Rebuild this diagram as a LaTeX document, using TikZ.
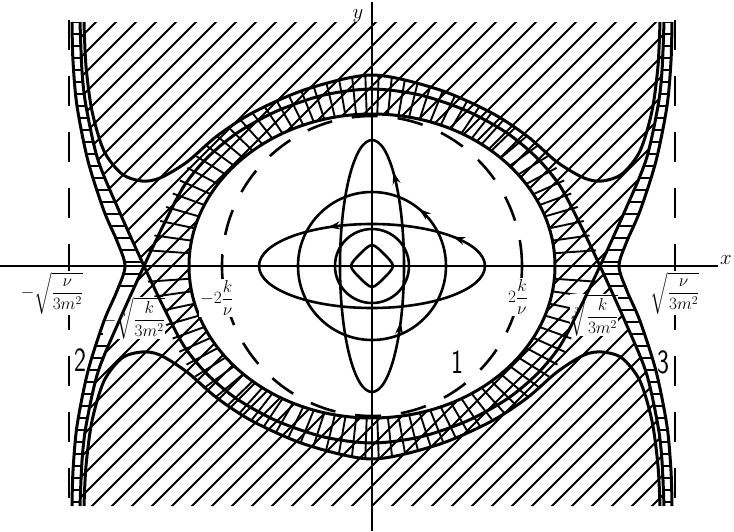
\documentclass[tikz,border=0pt]{standalone}
\usepackage{amsmath}
\usetikzlibrary{arrows.meta,decorations.markings}

\begin{document}
\begin{tikzpicture}[x=1pt, y=1pt,
    sep/.style={line width=3pt, line join=round},
    orbit/.style={line width=2.6pt},
    hatchline/.style={line width=2.1pt},
    rung/.style={line width=1.9pt},
    axisline/.style={line width=2.2pt},
    guide/.style={line width=2.6pt, dash pattern=on 30pt off 26pt},
    ringdash/.style={line width=2.6pt, dash pattern=on 26pt off 20pt},
    flowarrow/.style={postaction={decorate, decoration={markings,
      mark=at position #1 with {\arrow{Stealth[length=12pt, width=8pt]}}}}},
    lab/.style={font=\fontsize{18}{21}\selectfont, inner sep=1pt},
    num/.style={font=\fontsize{34}{34}\selectfont\sffamily, xscale=0.75, inner sep=0pt}
  ]
  \useasboundingbox (-372,-265) rectangle (362,266);

  % Diagonal hatching between the separatrix arms
  \begin{scope}
    \clip plot[smooth] coordinates {(-292,244) (-290,195) (-286,160) (-274,106) (-252,53) (-228,0)}
      -- plot[smooth] coordinates {(-228,0) (-252,-53) (-274,-106) (-286,-160) (-290,-195) (-292,-240)}
      -- plot[smooth] coordinates {(292,-240) (290,-195) (286,-160) (274,-106) (252,-53) (228,0)}
      -- plot[smooth] coordinates {(228,0) (252,53) (274,106) (286,160) (290,195) (292,244)} -- cycle;
    \foreach \c in {-560,-540,...,560}
      \draw[hatchline] (\c-300,-300) -- (\c+300,300);
  \end{scope}

  % Cross rungs in the ring
  \begin{scope}
    \clip plot[smooth cycle] coordinates {(0,191) (-65,177) (-118,154) (-155,130) (-182,102) (-203,65)
      (-217,32) (-228,0) (-217,-32) (-203,-65) (-182,-104) (-155,-132) (-118,-156) (-65,-179) (0,-193)
      (65,-179) (118,-156) (155,-132) (182,-104) (203,-65) (217,-32) (228,0) (217,32) (203,65)
      (182,102) (155,130) (118,154) (65,177)};
    \foreach \a in {0,4,...,356}
      \draw[rung] (0,0) -- (\a:330pt);
  \end{scope}

  % Cross rungs in the side bands
  \begin{scope}
    \clip plot[smooth] coordinates {(-300,244) (-299,205) (-295,160) (-284,105) (-268,55) (-255,25) (-247,0)
        (-255,-25) (-268,-55) (-284,-105) (-295,-160) (-299,-205) (-300,-240)}
      -- plot[smooth] coordinates {(-292,-240) (-290,-195) (-286,-160) (-274,-106) (-252,-53) (-228,0)}
      -- plot[smooth] coordinates {(-228,0) (-252,53) (-274,106) (-286,160) (-290,195) (-292,244)} -- cycle;
    \foreach \y in {-236,-224,...,244}
      \draw[rung] (-320,\y) -- (-210,\y);
  \end{scope}
  \begin{scope}
    \clip plot[smooth] coordinates {(300,244) (299,205) (295,160) (284,105) (268,55) (255,25) (247,0)
        (255,-25) (268,-55) (284,-105) (295,-160) (299,-205) (300,-240)}
      -- plot[smooth] coordinates {(292,-240) (290,-195) (286,-160) (274,-106) (252,-53) (228,0)}
      -- plot[smooth] coordinates {(228,0) (252,53) (274,106) (286,160) (290,195) (292,244)} -- cycle;
    \foreach \y in {-236,-224,...,244}
      \draw[rung] (210,\y) -- (320,\y);
  \end{scope}

  % Allowed region inside the ring
  \fill[white] (0,0) ellipse[x radius=183pt, y radius=152pt];

  % Labels sitting in the hatching
  \node[lab, fill=white, inner sep=0pt] (lcub) at (-238,-52) {$-\sqrt[3]{\dfrac{k}{3m^2}}$};
  \node[lab, fill=white, inner sep=0pt] (rcub) at (222,-49) {$\sqrt[3]{\dfrac{k}{3m^2}}$};

  % Level curves
  \draw[sep] plot[smooth] coordinates {(-300,244) (-299,205) (-295,160) (-284,105) (-268,55) (-255,25) (-247,0)
    (-255,-25) (-268,-55) (-284,-105) (-295,-160) (-299,-205) (-300,-240)};
  \draw[sep] plot[smooth] coordinates {(300,244) (299,205) (295,160) (284,105) (268,55) (255,25) (247,0)
    (255,-25) (268,-55) (284,-105) (295,-160) (299,-205) (300,-240)};
  \draw[sep] plot[smooth] coordinates {(-292,244) (-290,195) (-286,160) (-274,106) (-252,53) (-228,0)
    (-208,-42) (-188,-80) (-165,-108) (-135,-133) (-95,-155) (-48,-171) (0,-177) (48,-171) (95,-155)
    (135,-133) (165,-108) (188,-80) (208,-42) (228,0) (252,53) (274,106) (286,160) (290,195) (292,244)};
  \draw[sep] plot[smooth] coordinates {(-292,-240) (-290,-195) (-286,-160) (-274,-106) (-252,-53) (-228,0)
    (-208,42) (-188,80) (-165,108) (-135,133) (-95,155) (-48,171) (0,177) (48,171) (95,155)
    (135,133) (165,108) (188,80) (208,42) (228,0) (252,-53) (274,-106) (286,-160) (290,-195) (292,-240)};
  \draw[sep] plot[smooth] coordinates {(-288,244) (-286,200) (-280,155) (-268,115) (-250,92) (-230,85)
    (-212,88) (-185,104) (-155,130) (-118,154) (-65,177) (0,191) (65,177) (118,154) (155,130)
    (185,104) (212,88) (230,85) (250,92) (268,115) (280,155) (286,200) (288,244)};
  \draw[sep] plot[smooth] coordinates {(-288,-240) (-286,-200) (-280,-155) (-268,-115) (-250,-92) (-230,-86)
    (-212,-89) (-185,-106) (-155,-132) (-118,-156) (-65,-179) (0,-193) (65,-179) (118,-156) (155,-132)
    (185,-106) (212,-89) (230,-86) (250,-92) (268,-115) (280,-155) (286,-200) (288,-240)};
  \draw[sep] (0,0) ellipse[x radius=183pt, y radius=152pt];
  \draw[ringdash] (0,0) circle[radius=150pt];

  % Orbits round the centre
  \draw[orbit, flowarrow=0.175, flowarrow=0.896] (0,0) ellipse[x radius=32pt, y radius=126pt];
  \draw[orbit, flowarrow=0.089, flowarrow=0.336] (0,0) ellipse[x radius=113pt, y radius=42pt];
  \draw[orbit, flowarrow=0.14] (0,0) circle[radius=74pt];
  \draw[orbit] (0,0) circle[radius=37pt];
  \draw[orbit] plot[smooth cycle] coordinates {(0,21) (12,12) (21,0) (12,-12) (0,-21) (-12,-12) (-21,0) (-12,12)};

  % Axes
  \coordinate (xa) at (-372,0);
  \coordinate (xb) at (346,0);
  \coordinate (ya) at (0,-265);
  \coordinate (yb) at (0,264);
  \draw[axisline] (xa) -- (xb);
  \draw[axisline] (ya) -- (yb);
  \foreach \t in {-303,-150,150,303}
    \draw[axisline] (\t,0) -- (\t,12);
  \coordinate (gla) at (-303,246);
  \coordinate (glb) at (-303,-240);
  \coordinate (gra) at (303,246);
  \coordinate (grb) at (303,-240);
  \draw[guide] (gla) -- (glb);
  \draw[guide] (gra) -- (grb);

  % Axis labels and marks
  \node[font=\fontsize{22}{22}\selectfont] (xlab) at (354,6) {$x$};
  \node[font=\fontsize{22}{22}\selectfont] (ylab) at (-14,250) {$y$};
  \node[lab, fill=white] (lsq) at (-320,-27) {$-\sqrt{\dfrac{\nu}{3m^2}}$};
  \node[lab, fill=white] (rsq) at (303,-27) {$\sqrt{\dfrac{\nu}{3m^2}}$};
  \node[lab, fill=white] (lk) at (-155,-32) {$-2\dfrac{k}{\nu}$};
  \node[lab, fill=white] (rk) at (146,-31) {$2\dfrac{k}{\nu}$};
  \node[num] (one) at (85,-96) {1};
  \node[num] (two) at (-292,-94) {2};
  \node[num] (three) at (291,-96) {3};
\end{tikzpicture}
\end{document}
